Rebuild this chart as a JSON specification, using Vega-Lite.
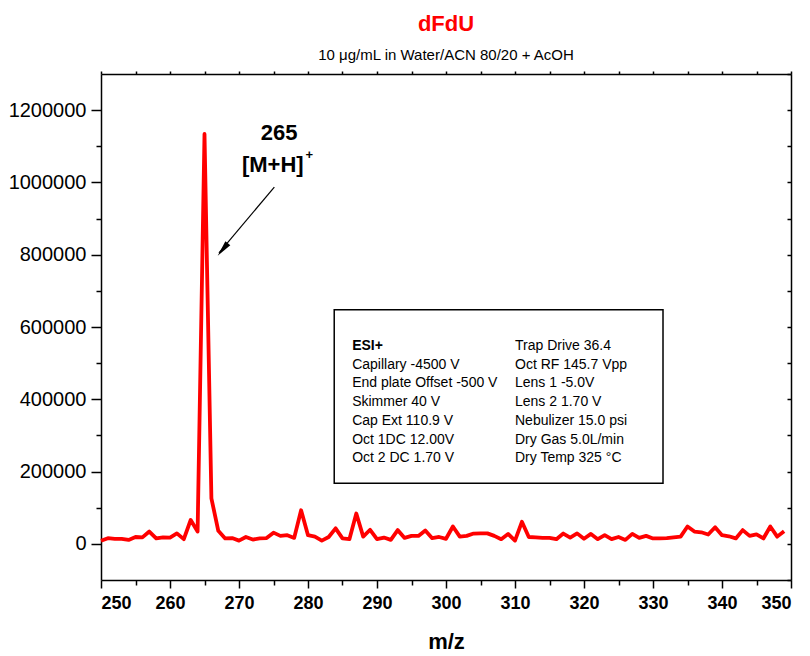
{
  "$schema": "https://vega.github.io/schema/vega-lite/v6.json",
  "width": 690,
  "height": 506,
  "autosize": "none",
  "padding": {"left": 101, "top": 74, "right": 19, "bottom": 76},
  "background": "white",
  "config": {
    "view": {"stroke": null},
    "font": "Liberation Sans",
    "axis": {"domainColor": "black", "tickColor": "black", "labelColor": "black", "titleColor": "black", "grid": false, "domainWidth": 1.5, "tickWidth": 1.5}
  },
  "title": {
    "text": "dFdU",
    "subtitle": "10 μg/mL in Water/ACN 80/20 + AcOH",
    "color": "#ff0000",
    "fontSize": 22,
    "fontWeight": "bold",
    "font": "Liberation Sans",
    "subtitleFont": "Liberation Sans",
    "subtitleFontSize": 15,
    "subtitleColor": "black",
    "anchor": "middle",
    "offset": 6,
    "subtitlePadding": 12
  },
  "datasets": {
    "spectrum": [
      {"mz": 250, "intensity": 8500}, {"mz": 251, "intensity": 15600}, {"mz": 252, "intensity": 14000}, {"mz": 253, "intensity": 14000},
      {"mz": 254, "intensity": 11000}, {"mz": 255, "intensity": 19000}, {"mz": 256, "intensity": 18000}, {"mz": 257, "intensity": 34000},
      {"mz": 258, "intensity": 15000}, {"mz": 259, "intensity": 18000}, {"mz": 260, "intensity": 17500}, {"mz": 261, "intensity": 29000},
      {"mz": 262, "intensity": 13000}, {"mz": 263, "intensity": 66000}, {"mz": 264, "intensity": 34000}, {"mz": 265, "intensity": 1134000},
      {"mz": 266, "intensity": 126000}, {"mz": 267, "intensity": 36000}, {"mz": 268, "intensity": 15000}, {"mz": 269, "intensity": 16000},
      {"mz": 270, "intensity": 9000}, {"mz": 271, "intensity": 19000}, {"mz": 272, "intensity": 12000}, {"mz": 273, "intensity": 15000},
      {"mz": 274, "intensity": 16000}, {"mz": 275, "intensity": 31000}, {"mz": 276, "intensity": 22000}, {"mz": 277, "intensity": 24000},
      {"mz": 278, "intensity": 16500}, {"mz": 279, "intensity": 93000}, {"mz": 280, "intensity": 24000}, {"mz": 281, "intensity": 20000},
      {"mz": 282, "intensity": 9000}, {"mz": 283, "intensity": 19000}, {"mz": 284, "intensity": 43000}, {"mz": 285, "intensity": 15000},
      {"mz": 286, "intensity": 13000}, {"mz": 287, "intensity": 84000}, {"mz": 288, "intensity": 20000}, {"mz": 289, "intensity": 39000},
      {"mz": 290, "intensity": 13000}, {"mz": 291, "intensity": 17500}, {"mz": 292, "intensity": 11000}, {"mz": 293, "intensity": 38000},
      {"mz": 294, "intensity": 16500}, {"mz": 295, "intensity": 22000}, {"mz": 296, "intensity": 22000}, {"mz": 297, "intensity": 37000},
      {"mz": 298, "intensity": 15600}, {"mz": 299, "intensity": 19000}, {"mz": 300, "intensity": 14000}, {"mz": 301, "intensity": 48000},
      {"mz": 302, "intensity": 20000}, {"mz": 303, "intensity": 22000}, {"mz": 304, "intensity": 28500}, {"mz": 305, "intensity": 29000},
      {"mz": 306, "intensity": 29000}, {"mz": 307, "intensity": 22000}, {"mz": 308, "intensity": 13000}, {"mz": 309, "intensity": 27500},
      {"mz": 310, "intensity": 9000}, {"mz": 311, "intensity": 61000}, {"mz": 312, "intensity": 19000}, {"mz": 313, "intensity": 18000},
      {"mz": 314, "intensity": 16500}, {"mz": 315, "intensity": 16500}, {"mz": 316, "intensity": 13000}, {"mz": 317, "intensity": 28500},
      {"mz": 318, "intensity": 17500}, {"mz": 319, "intensity": 29000}, {"mz": 320, "intensity": 14000}, {"mz": 321, "intensity": 27500},
      {"mz": 322, "intensity": 13000}, {"mz": 323, "intensity": 24000}, {"mz": 324, "intensity": 13000}, {"mz": 325, "intensity": 19000},
      {"mz": 326, "intensity": 11000}, {"mz": 327, "intensity": 27500}, {"mz": 328, "intensity": 16500}, {"mz": 329, "intensity": 22000},
      {"mz": 330, "intensity": 15000}, {"mz": 331, "intensity": 15000}, {"mz": 332, "intensity": 15600}, {"mz": 333, "intensity": 18000},
      {"mz": 334, "intensity": 20000}, {"mz": 335, "intensity": 48000}, {"mz": 336, "intensity": 34000}, {"mz": 337, "intensity": 32000},
      {"mz": 338, "intensity": 26000}, {"mz": 339, "intensity": 46000}, {"mz": 340, "intensity": 24000}, {"mz": 341, "intensity": 21000},
      {"mz": 342, "intensity": 15000}, {"mz": 343, "intensity": 38000}, {"mz": 344, "intensity": 22000}, {"mz": 345, "intensity": 26000},
      {"mz": 346, "intensity": 15000}, {"mz": 347, "intensity": 48000}, {"mz": 348, "intensity": 20000}, {"mz": 349, "intensity": 35000}
    ]
  },
  "resolve": {"axis": {"x": "independent", "y": "independent"}},
  "layer": [
    {
      "data": {"values": [{"label": "box"}]},
      "mark": {"type": "rect", "fill": "white", "stroke": "black", "strokeWidth": 1.5},
      "encoding": {
        "x": {"datum": 283.8, "type": "quantitative",
          "scale": {"domain": [250, 350], "nice": false, "zero": false},
          "axis": {"orient": "bottom", "values": [255, 265, 275, 285, 295, 305, 315, 325, 335, 345], "labels": false, "tickSize": 5, "domain": false, "title": null}},
        "x2": {"datum": 331.45},
        "y": {"datum": 648000, "type": "quantitative",
          "scale": {"domain": [-100000, 1300000], "nice": false, "zero": false},
          "axis": {"orient": "left", "values": [100000, 300000, 500000, 700000, 900000, 1100000], "labels": false, "tickSize": 5, "domain": false, "title": null}},
        "y2": {"datum": 168000}
      }
    },
    {
      "data": {"name": "spectrum"},
      "mark": {"type": "line", "color": "#ff0000", "strokeWidth": 3.8, "strokeJoin": "round"},
      "encoding": {
        "x": {"field": "mz", "type": "quantitative",
          "axis": {"orient": "bottom", "values": [250, 260, 270, 280, 290, 300, 310, 320, 330, 340, 350], "tickSize": 8,
            "labelFont": "Liberation Sans", "labelFontWeight": "bold", "labelFontSize": 18, "labelPadding": 6,
            "title": "m/z", "titleFont": "Liberation Sans", "titleFontWeight": "bold", "titleFontSize": 22, "titlePadding": 19}},
        "y": {"field": "intensity", "type": "quantitative",
          "axis": {"orient": "left", "values": [0, 200000, 400000, 600000, 800000, 1000000, 1200000], "format": "d", "tickSize": 10,
            "labelFontSize": 20, "labelPadding": 5, "title": null}}
      }
    },
    {
      "data": {"values": [{"label": "ESI+"}]},
      "mark": {"type": "text", "align": "left", "fontSize": 14, "fontWeight": "bold"},
      "encoding": {
        "x": {"datum": 286.4, "type": "quantitative",
          "axis": {"orient": "top", "values": [250, 255, 260, 265, 270, 275, 280, 285, 290, 295, 300, 305, 310, 315, 320, 325, 330, 335, 340, 345, 350], "labels": false, "tickSize": 3, "title": null}},
        "y": {"datum": 548000, "type": "quantitative",
          "axis": {"orient": "right", "values": [-100000, 0, 100000, 200000, 300000, 400000, 500000, 600000, 700000, 800000, 900000, 1000000, 1100000, 1200000, 1300000], "labels": false, "tickSize": -4, "title": null}},
        "text": {"field": "label"}
      }
    },
    {
      "data": {"values": [{"lines": ["Capillary -4500 V", "End plate Offset -500 V", "Skimmer 40 V", "Cap Ext 110.9 V", "Oct 1DC 12.00V", "Oct 2 DC 1.70 V"]}]},
      "mark": {"type": "text", "align": "left", "fontSize": 14, "lineHeight": 18.75},
      "encoding": {
        "x": {"datum": 286.4, "type": "quantitative", "axis": null},
        "y": {"datum": 496000, "type": "quantitative", "axis": null},
        "text": {"field": "lines"}
      }
    },
    {
      "data": {"values": [{"lines": ["Trap Drive 36.4", "Oct RF 145.7 Vpp", "Lens 1 -5.0V", "Lens 2 1.70 V", "Nebulizer 15.0 psi", "Dry Gas 5.0L/min", "Dry Temp 325 °C"]}]},
      "mark": {"type": "text", "align": "left", "fontSize": 14, "lineHeight": 18.75},
      "encoding": {
        "x": {"datum": 310.0, "type": "quantitative", "axis": null},
        "y": {"datum": 548000, "type": "quantitative", "axis": null},
        "text": {"field": "lines"}
      }
    },
    {
      "data": {"values": [{"label": "arrow"}]},
      "mark": {"type": "rule", "color": "black", "strokeWidth": 1.2},
      "encoding": {
        "x": {"datum": 275.12, "type": "quantitative", "axis": null},
        "y": {"datum": 987000, "type": "quantitative", "axis": null},
        "x2": {"datum": 267.1},
        "y2": {"datum": 805000}
      }
    },
    {
      "data": {"values": [{"label": "arrowhead"}]},
      "mark": {"type": "point", "shape": "M0,0L-0.4,2L0.4,2Z", "filled": true, "color": "black", "opacity": 1, "size": 256, "angle": 219.5},
      "encoding": {
        "x": {"datum": 266.91, "type": "quantitative", "axis": null},
        "y": {"datum": 797400, "type": "quantitative", "axis": null}
      }
    },
    {
      "data": {"values": [{"label": "265"}]},
      "mark": {"type": "text", "fontSize": 22, "fontWeight": "bold", "baseline": "middle"},
      "encoding": {
        "x": {"datum": 275.8, "type": "quantitative", "axis": null},
        "y": {"datum": 1137000, "type": "quantitative", "axis": null},
        "text": {"field": "label"}
      }
    },
    {
      "data": {"values": [{"label": "[M+H]"}]},
      "mark": {"type": "text", "fontSize": 22, "fontWeight": "bold", "baseline": "middle"},
      "encoding": {
        "x": {"datum": 274.9, "type": "quantitative", "axis": null},
        "y": {"datum": 1048600, "type": "quantitative", "axis": null},
        "text": {"field": "label"}
      }
    },
    {
      "data": {"values": [{"label": "+"}]},
      "mark": {"type": "text", "fontSize": 13, "fontWeight": "bold", "baseline": "middle"},
      "encoding": {
        "x": {"datum": 280.2, "type": "quantitative", "axis": null},
        "y": {"datum": 1076000, "type": "quantitative", "axis": null},
        "text": {"field": "label"}
      }
    }
  ]
}
